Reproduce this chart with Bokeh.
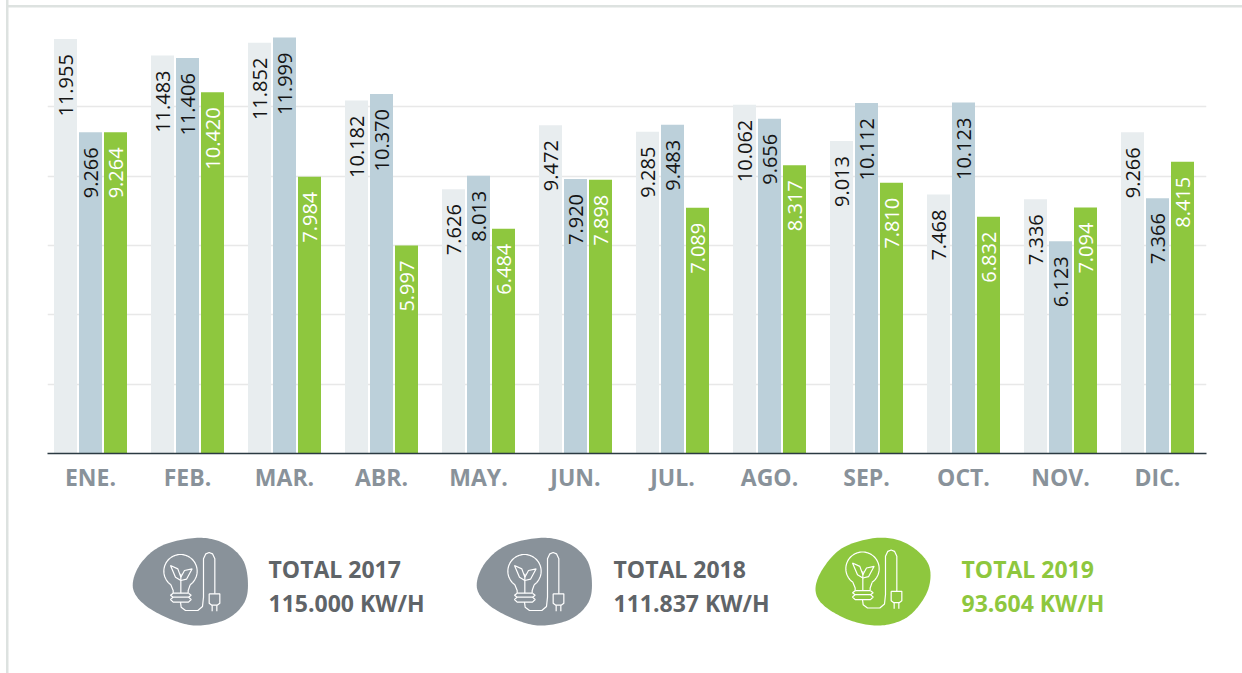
import numpy as np
from bokeh.embed import file_html
from bokeh.resources import INLINE
from bokeh.plotting import figure
from bokeh.layouts import column
from bokeh.models import (Range1d, FixedTicker, Grid, LinearAxis, ColumnDataSource)
from bokeh.core.properties import value

months = ["ENE.", "FEB.", "MAR.", "ABR.", "MAY.", "JUN.", "JUL.", "AGO.", "SEP.", "OCT.", "NOV.", "DIC."]
kwh_2017 = [11955, 11483, 11852, 10182, 7626, 9472, 9285, 10062, 9013, 7468, 7336, 9266]
kwh_2018 = [9266, 11406, 11999, 10370, 8013, 7920, 9483, 9656, 10112, 10123, 6123, 7366]
kwh_2019 = [9264, 10420, 7984, 5997, 6484, 7898, 7089, 8317, 7810, 6832, 7094, 8415]
grid_values = [2000, 4000, 6000, 8000, 10000]
totals = [("TOTAL 2017", "115.000 KW/H"), ("TOTAL 2018", "111.837 KW/H"), ("TOTAL 2019", "93.604 KW/H")]

C17, C18, C19 = "#e8edef", "#bcd0da", "#8ec73e"
GREY, FRAME = "#89929a", "#dde2e0"
W, H1, H2 = 1242, 520, 153
PITCH, BAR = 97.0, 25.0
LEFT, RIGHT, BASE = 47, 1206, 453
UNIT = 69.33 / 2000

x0 = (LEFT - 90.0) / PITCH
x1 = (RIGHT - 90.0) / PITCH
p = figure(width=W, height=H1, output_backend="svg", toolbar_location=None,
           x_range=Range1d(x0, x1), y_range=Range1d(0, BASE / UNIT),
           x_axis_location=None, y_axis_location=None,
           min_border_left=LEFT, min_border_right=W - RIGHT,
           min_border_top=0, min_border_bottom=H1 - BASE, outline_line_color=None,
           border_fill_color=None, background_fill_color=None)
p.grid.visible = False
p.add_layout(Grid(dimension=1, ticker=FixedTicker(ticks=grid_values),
                  grid_line_color="#e8e8e8", grid_line_width=1.5))

bw = 23.0 / PITCH
step = BAR / PITCH
x = np.arange(12)
for off, vals, col, tcol in [(-step, kwh_2017, C17, "#151515"), (0, kwh_2018, C18, "#151515"), (step, kwh_2019, C19, "#ffffff")]:
    src = ColumnDataSource(dict(x=x + off, top=vals, label=[f"{v:,}".replace(",", ".") for v in vals]))
    p.vbar(x="x", top="top", bottom=0, width=bw, source=src, fill_color=col, line_color=None)
    p.text(x="x", y="top", text="label", source=src, angle=np.pi / 2, y_offset=15,
           text_align="right", text_baseline="middle", text_color=tcol,
           text_font=value("Open Sans"), text_font_size="20px")

ax = LinearAxis(ticker=FixedTicker(ticks=list(range(12))),
                major_label_overrides={i: m for i, m in enumerate(months)})
ax.axis_line_color = "#2b3a42"
ax.axis_line_width = 1.5
ax.major_tick_line_color = None
ax.minor_tick_line_color = None
ax.major_label_standoff = 1
ax.major_label_text_color = GREY
ax.major_label_text_font = "Open Sans"
ax.major_label_text_font_style = "bold"
ax.major_label_text_font_size = "23px"
p.add_layout(ax, "below")

# lower panel, in page pixels (its frame lines up with the chart's)
q = figure(width=W, height=H2, output_backend="svg", toolbar_location=None,
           x_range=Range1d(LEFT, RIGHT), y_range=Range1d(H1 + H2, H1),
           x_axis_location=None, y_axis_location=None,
           min_border_left=LEFT, min_border_right=W - RIGHT, min_border_top=0, min_border_bottom=0,
           outline_line_color=None, border_fill_color=None, background_fill_color=None)
q.grid.visible = False


def smooth(pts, n=14):
    P = np.array(pts, float)
    out = []
    m = len(P)
    for i in range(m):
        a, b, c, d = P[i - 1], P[i], P[(i + 1) % m], P[(i + 2) % m]
        for t in np.linspace(0, 1, n, endpoint=False):
            out.append(0.5 * (2 * b + (c - a) * t + (2 * a - 5 * b + 4 * c - d) * t ** 2 + (3 * b - a - 3 * c + d) * t ** 3))
    return np.array(out)


blob_a = [(37, 170), (60, 100), (125, 45), (230, 22), (310, 38), (365, 85), (382, 150), (372, 215), (320, 265), (235, 285), (160, 270), (75, 225)]
blob_b = [(45, 175), (70, 110), (130, 50), (230, 22), (310, 35), (370, 80), (390, 130), (375, 195), (320, 260), (240, 285), (150, 270), (70, 225)]


def icon(ox, oy):
    th = np.linspace(np.radians(-55), np.radians(235), 50)
    paths = [
        [(180 + 50 * np.cos(t), 122 - 50 * np.sin(t)) for t in th],
        [(151, 163), (158, 180), (158, 188)],
        [(209, 163), (203, 180), (203, 188)],
        [(158, 188), (203, 188)],
        [(158, 188), (150, 194), (158, 200), (204, 200), (212, 194), (204, 188)],
        [(158, 200), (150, 207), (158, 215), (204, 215), (212, 207), (204, 200)],
        [(180, 215), (182, 230), (195, 240), (232, 240), (246, 228), (249, 200), (249, 85), (256, 70), (266, 66), (276, 70), (283, 85), (283, 190)],
        [(266, 190), (298, 190), (298, 218), (290, 224), (274, 224), (266, 218), (266, 190)],
        [(275, 224), (275, 242)],
        [(289, 224), (289, 242)],
        [(181, 188), (181, 130)],
        [(181, 150), (165, 140), (150, 105), (172, 115), (181, 140)],
        [(181, 150), (198, 146), (215, 115), (192, 120), (181, 140)],
    ]
    for path in paths:
        a = np.array(path)
        q.line(a[:, 0] / 3 + ox, a[:, 1] / 3 + oy, line_color="#ffffff", line_width=1.2)


legend = [(120, 530, blob_a, GREY, 120, 530, 268, "#5f6468"),
          (464, 530, blob_a, GREY, 464, 530, 613, "#5f6468"),
          (800, 530, blob_b, C19, 802, 527.5, 961, C19)]
for (bx, by, blob, col, ix, iy, tx, tcol), (l1, l2) in zip(legend, totals):
    b = smooth(blob)
    q.patch(b[:, 0] / 3 + bx, b[:, 1] / 3 + by, fill_color=col, line_color=None)
    icon(ix, iy)
    q.text(x=[tx, tx], y=[568, 602], text=[l1, l2], text_color=tcol, text_baseline="middle",
           text_font=value("Open Sans"), text_font_style="bold", text_font_size="23px")

bar_css = f"linear-gradient({FRAME},{FRAME})"
page = column(p, q, spacing=0, styles={
    "background-image": f"{bar_css},{bar_css}",
    "background-repeat": "no-repeat",
    "background-size": f"2.5px {H1 + H2}px,{W}px 2.5px",
    "background-position": "6px 0px,6px 5px",
})
open("out.html", "w").write(file_html(page, INLINE))
